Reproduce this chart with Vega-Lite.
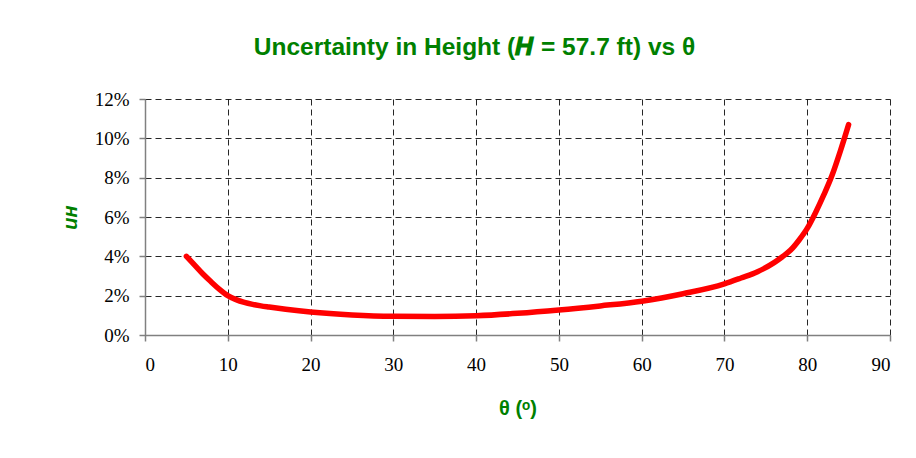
{
  "$schema": "https://vega.github.io/schema/vega-lite/v6.json",
  "width": 745,
  "height": 236,
  "autosize": {"type": "none"},
  "padding": {"left": 145, "top": 99, "right": 26, "bottom": 123},
  "background": "white",
  "title": {
    "text": "Uncertainty in Height (𝑯 = 57.7 ft) vs θ",
    "font": "Liberation Sans",
    "fontSize": 24.5,
    "fontWeight": "bold",
    "color": "#008000",
    "anchor": "middle",
    "frame": "group",
    "dx": -43,
    "offset": 30
  },
  "data": {
    "values": [
      {"theta": 5, "u": 0.040},
      {"theta": 6, "u": 0.0355},
      {"theta": 7, "u": 0.031},
      {"theta": 8, "u": 0.027},
      {"theta": 9, "u": 0.0232},
      {"theta": 10, "u": 0.020},
      {"theta": 11, "u": 0.018},
      {"theta": 12, "u": 0.0166},
      {"theta": 13, "u": 0.0156},
      {"theta": 14, "u": 0.0148},
      {"theta": 15, "u": 0.0142},
      {"theta": 17, "u": 0.0131},
      {"theta": 20, "u": 0.0117},
      {"theta": 25, "u": 0.0102},
      {"theta": 30, "u": 0.0095},
      {"theta": 35, "u": 0.0094},
      {"theta": 40, "u": 0.0098},
      {"theta": 45, "u": 0.0110},
      {"theta": 50, "u": 0.0127},
      {"theta": 55, "u": 0.0148},
      {"theta": 60, "u": 0.0172},
      {"theta": 65, "u": 0.0210},
      {"theta": 70, "u": 0.0260},
      {"theta": 72, "u": 0.0290},
      {"theta": 74, "u": 0.0322},
      {"theta": 76, "u": 0.0368},
      {"theta": 77, "u": 0.0398},
      {"theta": 78, "u": 0.0432},
      {"theta": 79, "u": 0.0482},
      {"theta": 80, "u": 0.0542},
      {"theta": 81, "u": 0.0622},
      {"theta": 82, "u": 0.0712},
      {"theta": 83, "u": 0.0812},
      {"theta": 84, "u": 0.0935},
      {"theta": 85, "u": 0.1070}
    ]
  },
  "mark": {"type": "line", "color": "#FF0000", "strokeWidth": 5.5, "interpolate": "monotone", "strokeCap": "round", "strokeJoin": "round"},
  "encoding": {
    "x": {
      "field": "theta",
      "type": "quantitative",
      "scale": {"domain": [0, 90], "nice": false, "zero": false},
      "axis": {
        "title": "θ (ᵒ)",
        "values": [0, 10, 20, 30, 40, 50, 60, 70, 80, 90],
        "labelPadding": 14,
        "titlePadding": 24,
        "titleFontSize": 20
      }
    },
    "y": {
      "field": "u",
      "type": "quantitative",
      "scale": {"domain": [0, 0.12], "nice": false},
      "axis": {
        "title": "uʜ",
        "format": ".0%",
        "values": [0, 0.02, 0.04, 0.06, 0.08, 0.1, 0.12],
        "labelPadding": 10,
        "titlePadding": 14,
        "titleFontStyle": "italic",
        "titleFontSize": 20
      }
    }
  },
  "config": {
    "view": {"stroke": null},
    "axis": {
      "labelFont": "Liberation Serif",
      "labelFontSize": 19,
      "labelColor": "black",
      "domainColor": "#808080",
      "domainWidth": 1.5,
      "tickColor": "#808080",
      "tickSize": 6,
      "tickWidth": 1.5,
      "gridColor": "black",
      "gridDash": [6, 4],
      "gridWidth": 1,
      "gridOpacity": 0.85,
      "titleFont": "Liberation Sans",
      "titleFontWeight": "bold",
      "titleColor": "#008000"
    }
  }
}
